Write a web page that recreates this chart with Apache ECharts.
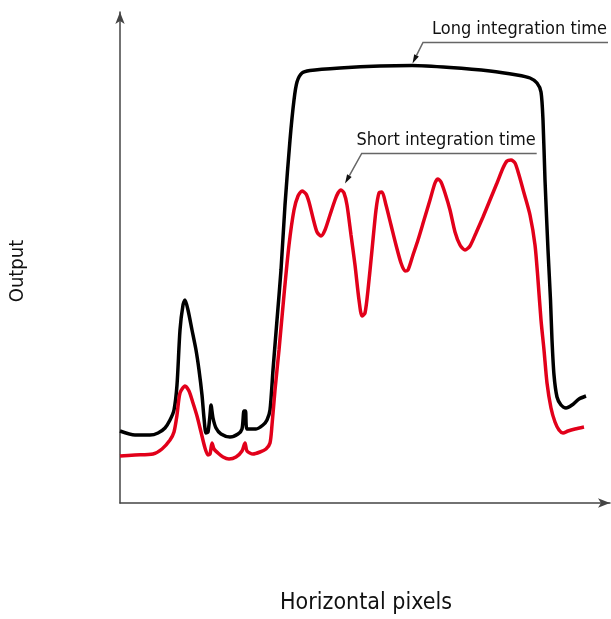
<!DOCTYPE html>
<html>
<head>
<meta charset="utf-8">
<script src="https://cdn.jsdelivr.net/npm/echarts@6/dist/echarts.min.js"></script>
<style>
html,body{margin:0;padding:0;background:#fff;}
#main{width:611px;height:619px;}
</style>
</head>
<body>
<div id="main"></div>
<script>
// Values (horizontal pixel index, output level; arbitrary units)
var longX = [0,15,30,38,45,50,54,57,60,63,65,68,72,76,79,82,84,86,88,90,91,93,96,101,110,118,122,124,125.5,127,136,143,147,150,153,157,161,165,170,174,177,182,190,220,260,292,330,370,397,410,417,421,423,425,428,430.5,432,434,437,441,446,452,459,466];
var longY = [72,68,68,70,75,83,93,118,173,198,203,193,173,153,133,108,85,70,71,88,98,85,75,69,66,69,74,92,92,74,74,78,83,93,133,183,233,298,363,403,421,430,432.5,435,437,437.5,435.5,432,428,425,420,411,383,323,253,203,163,128,106,98,95,98,104,107];
var shortX = [0,15,33,42,50,54,57,60,65,69,73,77,81,85,88,90,92,94,98,103,109,116,122,125,127,133,140,146,150,152,155,159,164,169,174,178,182,186,189,193,197,201,205,210,215,218,221,224,227,231,235,239,242,245,248,252,256,259,262,266,271,276,281,285,288,293,298,304,310,315,318,321,325,330,335,340,345,350,356,363,370,377,383,387,391,395,399,404,410,415,418,421,424,427,431,435,439,443,448,455,464];
var shortY = [47,48,49,54,63,71,88,110,117,112,100,87,71,55,48,49,60,54,50,46,44,46,52,60,52,49,51,54,60,78,113,153,208,258,293,307,312,309,301,285,271,267,273,288,303,310,313,310,298,268,238,203,187,190,213,253,293,310,311,298,278,258,240,232,233,248,263,283,303,320,324,321,310,293,271,258,253,257,270,286,303,320,335,342,343,340,328,310,288,258,223,183,153,120,95,81,73,70,72,74,76];
var seriesNames = ['Long integration time', 'Short integration time'];
// annotation anchors in data units: arrow tip, elbow, end of underline
var annTipX = [292.5, 225], annTipY = [439.5, 319.5];
var annElbowX = [303, 241.7], annElbowY = [460.5, 349.5];
var annEndX = [488, 416.7];
var axisNames = ['Horizontal pixels', 'Output'];

function pairs(xs, ys){ var o=[]; for(var i=0;i<xs.length;i++) o.push([xs[i], ys[i]]); return o; }

var chart = echarts.init(document.getElementById('main'), null, {renderer:'canvas'});
var axisLine = {show:true, symbol:['none','arrow'], symbolSize:[7,12], lineStyle:{color:'#444', width:1.5}};
chart.setOption({
  animation:false,
  backgroundColor:'#fff',
  grid:{left:120, right:1, top:12, bottom:116},
  xAxis:{type:'value', min:0, max:490, axisLine:axisLine, axisTick:{show:false}, axisLabel:{show:false}, splitLine:{show:false}},
  yAxis:{type:'value', min:0, max:491, axisLine:axisLine, axisTick:{show:false}, axisLabel:{show:false}, splitLine:{show:false}},
  series:[
    {name:seriesNames[0], type:'line', data:pairs(longX,longY), smooth:0.25, showSymbol:false, lineStyle:{color:'#000', width:3.5}, z:3},
    {name:seriesNames[1], type:'line', data:pairs(shortX,shortY), smooth:0.25, showSymbol:false, lineStyle:{color:'#e2001a', width:3.5}, z:4}
  ]
});

var g = [];
for (var i=0;i<seriesNames.length;i++){
  var tip = chart.convertToPixel({gridIndex:0}, [annTipX[i], annTipY[i]]);
  var elb = chart.convertToPixel({gridIndex:0}, [annElbowX[i], annElbowY[i]]);
  var end = chart.convertToPixel({gridIndex:0}, [annEndX[i], annElbowY[i]]);
  var dx = tip[0]-elb[0], dy = tip[1]-elb[1], L = Math.sqrt(dx*dx+dy*dy);
  var ux = dx/L, uy = dy/L, al = 9, aw = 2.6;
  var bx = tip[0]-ux*al, by = tip[1]-uy*al;
  g.push({type:'polyline', shape:{points:[end, elb, [bx,by]]}, style:{stroke:'#666', lineWidth:1.5, fill:null}, z:10});
  g.push({type:'polygon', shape:{points:[tip,[bx-uy*aw, by+ux*aw],[bx+uy*aw, by-ux*aw]]}, style:{fill:'#111'}, z:10});
  g.push({type:'text', x:end[0]-1, y:elb[1]-4, style:{text:seriesNames[i], align:'right', verticalAlign:'bottom', font:'18px "DejaVu Sans Condensed", "DejaVu Sans", sans-serif', fill:'#111'}, z:10});
}
var origin = chart.convertToPixel({gridIndex:0}, [245, 0]);
g.push({type:'text', x:origin[0]+1, y:603, style:{text:axisNames[0], align:'center', verticalAlign:'middle', font:'23px "DejaVu Sans Condensed", "DejaVu Sans", sans-serif', fill:'#111'}});
g.push({type:'text', x:18, y:271, rotation:Math.PI/2, style:{text:axisNames[1], align:'center', verticalAlign:'middle', font:'20px "DejaVu Sans Condensed", "DejaVu Sans", sans-serif', fill:'#111'}});
chart.setOption({graphic:g});
</script>
</body>
</html>
